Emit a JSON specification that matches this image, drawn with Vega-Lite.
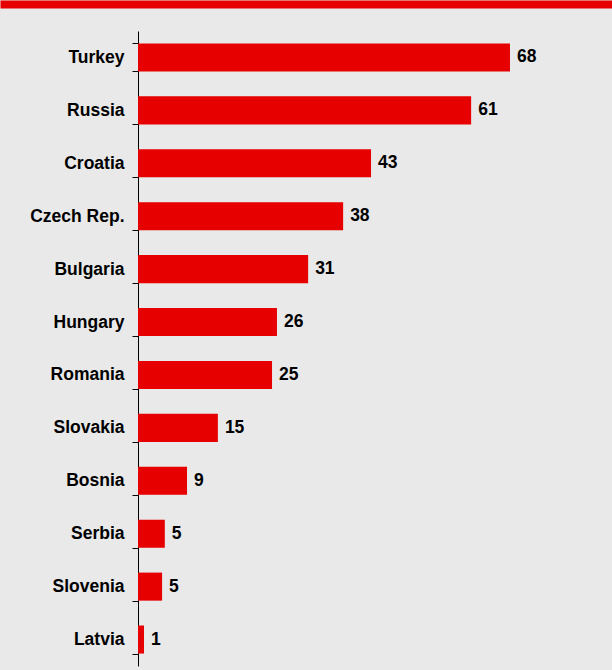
{
  "$schema": "https://vega.github.io/schema/vega-lite/v6.json",
  "autosize": "none",
  "width": 612,
  "height": 635,
  "padding": {"top": 31, "left": 0, "right": 0, "bottom": 4},
  "background": "#e9e9e9",
  "config": {"view": {"fill": "#e9e9e9", "stroke": null}},
  "data": {
    "values": [
      {"country": "Turkey", "value": 68.0, "label": "68"},
      {"country": "Russia", "value": 60.9, "label": "61"},
      {"country": "Croatia", "value": 42.6, "label": "43"},
      {"country": "Czech Rep.", "value": 37.5, "label": "38"},
      {"country": "Bulgaria", "value": 31.1, "label": "31"},
      {"country": "Hungary", "value": 25.4, "label": "26"},
      {"country": "Romania", "value": 24.5, "label": "25"},
      {"country": "Slovakia", "value": 14.6, "label": "15"},
      {"country": "Bosnia", "value": 8.96, "label": "9"},
      {"country": "Serbia", "value": 4.9, "label": "5"},
      {"country": "Slovenia", "value": 4.4, "label": "5"},
      {"country": "Latvia", "value": 1.1, "label": "1"}
    ]
  },
  "encoding": {
    "y": {
      "field": "country",
      "type": "nominal",
      "sort": null,
      "scale": {"paddingInner": 0.47, "paddingOuter": 0.235},
      "axis": {
        "title": null,
        "offset": -138,
        "domainColor": "#000000",
        "domainWidth": 1,
        "tickColor": "#000000",
        "tickSize": 6,
        "tickBand": "extent",
        "labelPadding": 8,
        "labelFont": "Liberation Sans",
        "labelFontWeight": "bold",
        "labelFontSize": 17.5,
        "labelColor": "#000000",
        "labelLimit": 0,
        "grid": false
      }
    }
  },
  "layer": [
    {
      "mark": {"type": "bar", "color": "#e60000"},
      "encoding": {
        "x": {
          "field": "value",
          "type": "quantitative",
          "scale": {"domain": [-25.23, 86.65], "nice": false, "zero": false},
          "axis": {
            "orient": "top",
            "offset": 27,
            "domain": true,
            "domainColor": "#e60000",
            "domainWidth": 8,
            "ticks": false,
            "labels": false,
            "grid": false,
            "title": null
          }
        },
        "x2": {"datum": 0}
      }
    },
    {
      "mark": {
        "type": "text",
        "align": "left",
        "baseline": "middle",
        "dx": 7,
        "font": "Liberation Sans",
        "fontWeight": "bold",
        "fontSize": 17.5,
        "color": "#000000"
      },
      "encoding": {
        "x": {
          "field": "value",
          "type": "quantitative",
          "scale": {"domain": [-25.23, 86.65], "nice": false, "zero": false}
        },
        "text": {"field": "label"}
      }
    }
  ]
}
